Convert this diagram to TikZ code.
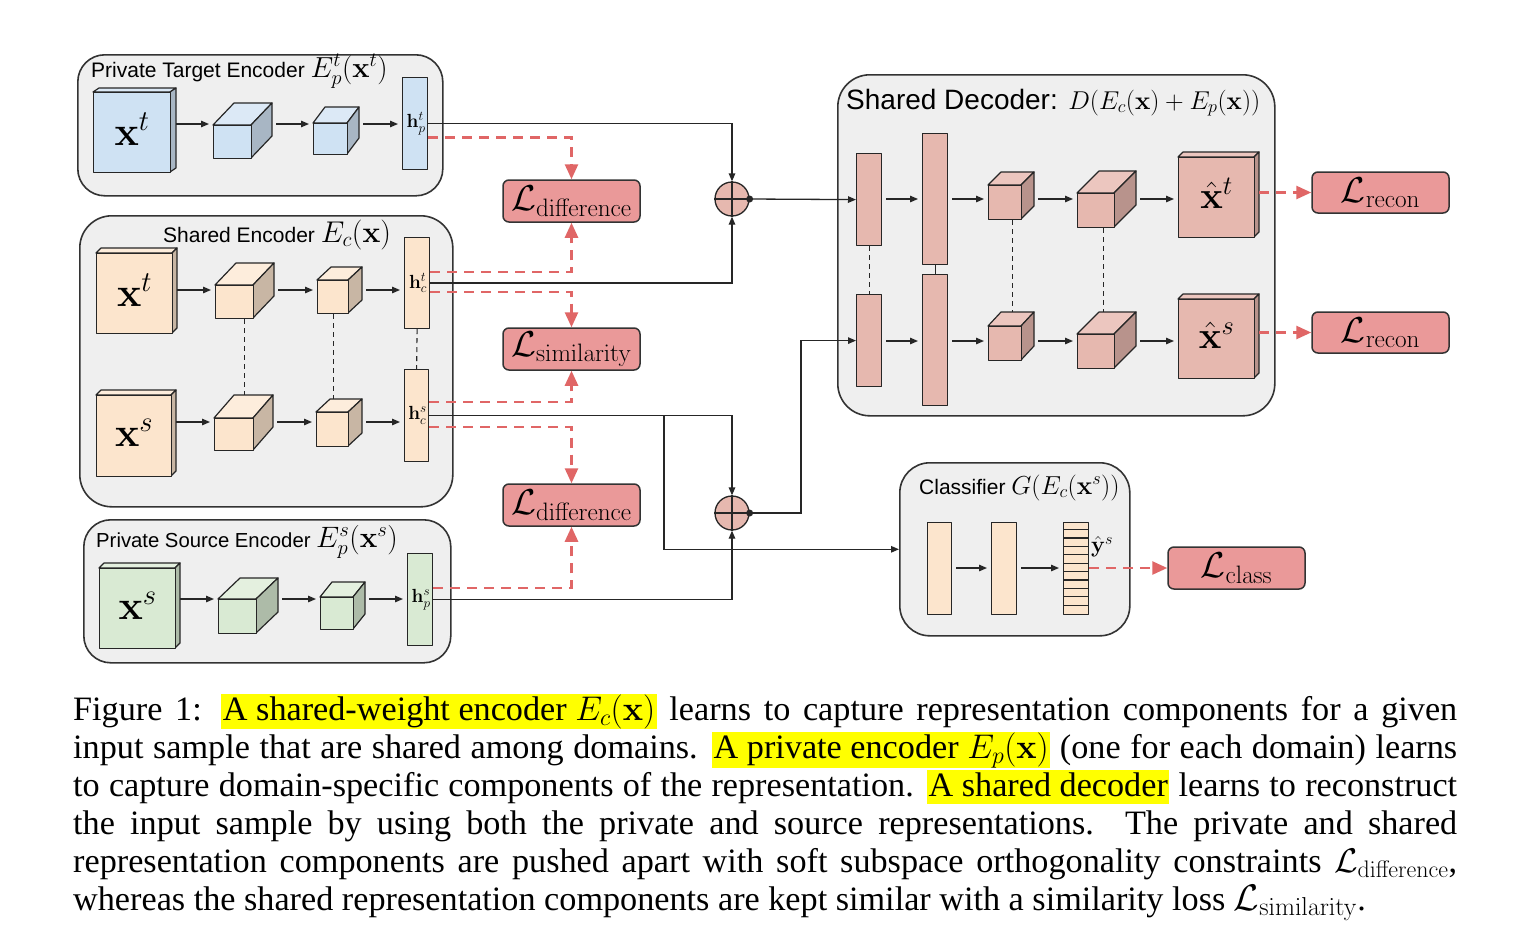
\RequirePackage{fix-cm}
\documentclass[tikz,border=0pt]{standalone}
\usepackage[no-math]{fontspec}
\usetikzlibrary{arrows.meta,calc}
\newfontfamily\arialf{Liberation Sans}
\newfontfamily\timesf{Liberation Serif}
\definecolor{bfront}{HTML}{CFE2F3}
\definecolor{btop}{HTML}{DCE9F6}
\definecolor{bside}{HTML}{A8B6C4}
\definecolor{ofront}{HTML}{FCE5CD}
\definecolor{otop}{HTML}{FDEDDC}
\definecolor{oside}{HTML}{C8B6A4}
\definecolor{gfront}{HTML}{D9EAD3}
\definecolor{gtop}{HTML}{E4F0DF}
\definecolor{gside}{HTML}{ADBBA8}
\definecolor{pfront}{HTML}{E6B8AF}
\definecolor{ptop}{HTML}{ECC6BF}
\definecolor{pside}{HTML}{B8938C}
\definecolor{lossfill}{HTML}{EA9999}
\definecolor{reddash}{HTML}{E06666}
\definecolor{panel}{HTML}{EFEFEF}
\definecolor{panelline}{HTML}{333333}
\definecolor{hly}{HTML}{FFFF00}
\newcommand\fsz[1]{\fontsize{#1}{#1}\selectfont}
\newcommand\hlt[1]{{\setlength{\fboxsep}{0pt}\colorbox{hly}{\kern1.5pt\rule[-8pt]{0pt}{34.5pt}#1\kern1.5pt}}}
\newcommand\cubeb[8]{%
 \filldraw[blk, fill=#8top] (#2,#3) -- ++(#6,-#7) -- ({#4+#6},{#3-#7}) -- (#4,#3) -- cycle;
 \filldraw[blk, fill=#8side] (#4,#3) -- ({#4+#6},{#3-#7}) -- ({#4+#6},{#5-#7}) -- (#4,#5) -- cycle;
 \node[blk, fill=#8front, anchor=north west, minimum width={#4-#2}, minimum height={#5-#3}, inner sep=0pt] (#1) at (#2,#3) {};
 \coordinate (#1R) at ({#4+#6},#3);
}
\newcommand\slab[6]{%
 \node[blk, fill=#6, anchor=north west, minimum width={#4-#2}, minimum height={#5-#3}, inner sep=0pt] (#1) at (#2,#3) {};
}
\tikzset{
 panelbox/.style={draw=panelline, fill=panel, line width=1.6pt, anchor=north west, inner sep=0pt},
 blk/.style={draw=black!85, line width=1.2pt, line join=round},
 conn/.style={draw=black!85, line width=1.3pt},
 arr/.style={conn, -{Triangle[length=8pt,width=6.5pt]}},
 arrg/.style={arr, shorten >=4pt, shorten <=4pt},
 rdash/.style={draw=reddash, line width=2.6pt, dash pattern=on 10pt off 7pt},
 rarr/.style={rdash, -{Triangle[length=15pt,width=13pt]}},
 lossbox/.style={draw=black!80, fill=lossfill, line width=1.5pt, rounded corners=6pt, minimum width=137pt, minimum height=42pt, inner sep=0pt, font={\fsz{36}}},
 sumnode/.style={circle, draw=black!85, fill=pfront, line width=1.3pt, minimum size=34pt, inner sep=0pt},
 vdash/.style={draw=black!85, line width=1.1pt, dash pattern=on 5pt off 4pt},
 ptitle/.style={anchor=base west, inner sep=0pt},
 lbl/.style={inner sep=0pt},
 capl/.style={anchor=base west, inner sep=0pt, font={\timesf\fsz{34.2}}},
}
\begin{document}
\begin{tikzpicture}[x=1pt,y=-1pt]
\fill[white] (0,0) rectangle (1532,951);
\useasboundingbox (0,0) rectangle (1532,951);
% panels
\node[panelbox, rounded corners=27pt, minimum width=365, minimum height=141] (PTE) at (77,54) {};
\node[panelbox, rounded corners=32pt, minimum width=373, minimum height=291] (SE) at (79,215) {};
\node[panelbox, rounded corners=27pt, minimum width=367, minimum height=143] (PSE) at (83,519) {};
\node[panelbox, rounded corners=32pt, minimum width=437, minimum height=341] (DEC) at (837,74) {};
\node[panelbox, rounded corners=30pt, minimum width=230, minimum height=173] (CLS) at (899,462) {};
% titles
\node[ptitle] (tPTE) at (91,77) {\arialf\fsz{21}Private Target Encoder {\fsz{29}$E_p^t(\mathbf{x}^t)$}};
\node[ptitle] (tSE) at (163,242) {\arialf\fsz{21}Shared Encoder {\fsz{30}$E_c(\mathbf{x})$}};
\node[ptitle] (tPSE) at (96,547) {\arialf\fsz{20.3}Private Source Encoder {\fsz{29.5}$E_p^s(\mathbf{x}^s)$}};
\node[ptitle] (tDEC) at (846,109) {\arialf\fsz{28}Shared Decoder: {\fsz{25.8}$D(E_c(\mathbf{x})+E_p(\mathbf{x}))$}};
\node[ptitle] (tCLS) at (919,494) {\arialf\fsz{21}Classifier {\fsz{26}$G(E_c(\mathbf{x}^s))$}};
% private target encoder
\cubeb{ptX}{93}{92}{170}{172}{6}{4}{b}
\cubeb{ptA}{213}{125}{251}{158}{21}{22}{b}
\cubeb{ptB}{313}{123}{347}{154}{12}{16}{b}
\slab{hpt}{402}{77}{427}{169}{bfront}
% shared encoder
\cubeb{seXt}{96}{253}{172}{333}{5}{5}{o}
\cubeb{seAt}{215}{285}{253}{318}{21}{22}{o}
\cubeb{seBt}{317}{280}{348}{313}{14}{13}{o}
\slab{hct}{404}{237}{429}{328}{ofront}
\cubeb{seXs}{96}{395}{171}{476}{5}{5}{o}
\cubeb{seAs}{214}{418}{253}{450}{20}{23}{o}
\cubeb{seBs}{316}{412}{348}{446}{14}{13}{o}
\slab{hcs}{404}{369}{428}{461}{ofront}
% private source encoder
\cubeb{psX}{99}{568}{175}{648}{5}{5}{g}
\cubeb{psA}{218}{599}{256}{633}{22}{21}{g}
\cubeb{psB}{320}{597}{353}{629}{12}{15}{g}
\slab{hps}{407}{553}{432}{645}{gfront}
% decoder
\slab{dAu}{856}{153}{881}{245}{pfront}
\slab{dBu}{922}{133}{947}{264}{pfront}
\cubeb{dCu}{988}{185}{1021}{219}{13}{13}{p}
\cubeb{dDu}{1077}{193}{1114}{227}{22}{22}{p}
\cubeb{dXu}{1178}{157}{1254}{237}{5}{5}{p}
\slab{dAl}{856}{294}{881}{386}{pfront}
\slab{dBl}{922}{274}{947}{405}{pfront}
\cubeb{dCl}{988}{326}{1021}{360}{13}{14}{p}
\cubeb{dDl}{1077}{334}{1114}{368}{22}{22}{p}
\cubeb{dXl}{1178}{299}{1254}{378}{5}{5}{p}
% classifier
\slab{cA}{927}{522}{951}{614}{ofront}
\slab{cB}{991}{522}{1016}{614}{ofront}
\slab{cC}{1063}{522}{1088}{614}{ofront}
\foreach \k in {0,...,9} \draw[blk] (1063,{529.5+8.4*\k}) -- (1088,{529.5+8.4*\k});
% labels
\node[lbl] (lptX) at ($(ptX.center)+(0,-3)$) {\fsz{41}$\mathbf{x}^t$};
\node[lbl] (lseXt) at ($(seXt.center)+(0,-3)$) {\fsz{41}$\mathbf{x}^t$};
\node[lbl] (lseXs) at ($(seXs.center)+(0,-3)$) {\fsz{41}$\mathbf{x}^s$};
\node[lbl] (lpsX) at ($(psX.center)+(0,-3)$) {\fsz{41}$\mathbf{x}^s$};
\node[lbl] (ldXu) at ($(dXu.center)+(0,-4)$) {\fsz{38}$\hat{\mathbf{x}}^t$};
\node[lbl] (ldXl) at ($(dXl.center)+(0,-4)$) {\fsz{38}$\hat{\mathbf{x}}^s$};
\node[lbl] (lhpt) at ($(hpt.center)+(1,0)$) {\fsz{19}$\mathbf{h}_p^t$};
\node[lbl] (lhct) at ($(hct.center)+(1,0)$) {\fsz{19}$\mathbf{h}_c^t$};
\node[lbl] (lhcs) at ($(hcs.center)+(1,0)$) {\fsz{19}$\mathbf{h}_c^s$};
\node[lbl] (lhps) at ($(hps.center)+(1,0)$) {\fsz{19}$\mathbf{h}_p^s$};
\node[lbl, anchor=west] (lyh) at (1091,547) {\fsz{23}$\hat{\mathbf{y}}^s$};
% row coordinates
\coordinate (rPT) at (0,124);
\coordinate (rSEt) at (0,290);
\coordinate (rSEs) at (0,422);
\coordinate (rPS) at (0,599);
\coordinate (rDu) at (0,199);
\coordinate (rDl) at (0,341);
\coordinate (rC) at (0,568);
% in-block arrows
\draw[arr, shorten >=4pt] (ptXR |- rPT) -- (ptA.west |- rPT);
\draw[arrg] (ptAR |- rPT) -- (ptB.west |- rPT);
\draw[arrg] (ptBR |- rPT) -- (hpt.west |- rPT);
\draw[arr, shorten >=4pt] (seXtR |- rSEt) -- (seAt.west |- rSEt);
\draw[arrg] (seAtR |- rSEt) -- (seBt.west |- rSEt);
\draw[arrg] (seBtR |- rSEt) -- (hct.west |- rSEt);
\draw[arr, shorten >=4pt] (seXsR |- rSEs) -- (seAs.west |- rSEs);
\draw[arrg] (seAsR |- rSEs) -- (seBs.west |- rSEs);
\draw[arrg] (seBsR |- rSEs) -- (hcs.west |- rSEs);
\draw[arr, shorten >=4pt] (psXR |- rPS) -- (psA.west |- rPS);
\draw[arrg] (psAR |- rPS) -- (psB.west |- rPS);
\draw[arrg] (psBR |- rPS) -- (hps.west |- rPS);
\draw[arrg] (dAu.east |- rDu) -- (dBu.west |- rDu);
\draw[arrg] (dBu.east |- rDu) -- (dCu.west |- rDu);
\draw[arrg] (dCuR |- rDu) -- (dDu.west |- rDu);
\draw[arrg] (dDuR |- rDu) -- (dXu.west |- rDu);
\draw[arrg] (dAl.east |- rDl) -- (dBl.west |- rDl);
\draw[arrg] (dBl.east |- rDl) -- (dCl.west |- rDl);
\draw[arrg] (dClR |- rDl) -- (dDl.west |- rDl);
\draw[arrg] (dDlR |- rDl) -- (dXl.west |- rDl);
\draw[arrg] (cA.east |- rC) -- (cB.west |- rC);
\draw[arrg] (cB.east |- rC) -- (cC.west |- rC);
% shared-weight dashed ties
\draw[vdash] ($(seAt.south)+(10,0)$) -- ($(seAs.north)+(10.5,-23)$);
\draw[vdash] (seBt.south) -- ($(seBs.north)+(0.5,-13)$);
\draw[vdash] (hct.south) -- (hcs.north);
\draw[vdash] (dAu.south) -- (dAl.north);
\draw[conn, line width=1.1pt] (dBu.south) -- (dBl.north);
\draw[vdash] ($(dCu.south)+(7,0)$) -- ($(dCl.north)+(7,-14)$);
\draw[vdash] ($(dDu.south)+(7,0)$) -- ($(dDl.north)+(7,-22)$);
% sum nodes and losses
\node[sumnode] (P1) at (732,199) {};
\node[sumnode] (P2) at (732,513) {};
\node[lossbox] (Ld1) at (571.5,201) {$\mathcal{L}_{\mathrm{difference}}$};
\node[lossbox] (Lsim) at (571.5,349) {$\mathcal{L}_{\mathrm{similarity}}$};
\node[lossbox] (Ld2) at (571.5,505) {$\mathcal{L}_{\mathrm{difference}}$};
\node[lossbox, minimum height=41pt] (Lr1) at (1380.5,192.5) {$\mathcal{L}_{\mathrm{recon}}$};
\node[lossbox, minimum height=41pt] (Lr2) at (1380.5,332.5) {$\mathcal{L}_{\mathrm{recon}}$};
\node[lossbox] (Lc) at (1236.5,568) {$\mathcal{L}_{\mathrm{class}}$};
% red dashed loss connectors
\coordinate (yA) at (0,137.5);
\coordinate (yB) at (0,272);
\coordinate (yC) at (0,292);
\coordinate (yD) at (0,402);
\coordinate (yE) at (0,427);
\coordinate (yF) at (0,588);
\draw[rarr] (hpt.east |- yA) -| (Ld1.north);
\draw[rarr] (hct.east |- yB) -| (Ld1.south);
\draw[rarr] (hct.east |- yC) -| (Lsim.north);
\draw[rarr] (hcs.east |- yD) -| (Lsim.south);
\draw[rarr] (hcs.east |- yE) -| (Ld2.north);
\draw[rarr] (hps.east |- yF) -| (Ld2.south);
\draw[rarr] (dXuR |- Lr1.west) -- (Lr1.west);
\draw[rarr] (dXlR |- Lr2.west) -- (Lr2.west);
\draw[rarr] (cC.east |- Lc.west) -- (Lc.west);
% black connectors
\draw[arr] (hpt.east) -| (P1.north);
\draw[arr] (hct.east) -| (P1.south);
\draw[arr] (hcs.east) -| (P2.north);
\draw[arr] (hps.east) -| (P2.south);
\coordinate (br) at (664,415);
\draw[arr] (br) |- (CLS.west);
\draw[arr] (P1.east) -- (dAu.west);
\coordinate (bend) at (801,513);
\draw[arr] (P2.east) -- (bend) |- (dAl.west);
\foreach \p in {P1,P2}{
 \draw[conn] (\p.north) -- (\p.south);
 \draw[conn] (\p.west) -- (\p.east);
 \fill[black!85] (\p.east) circle (3.5pt);
}
% caption
\node[capl] (cap1) at (73,720) {\hbox to 1384pt{Figure 1: \hlt{A shared-weight encoder $E_c(\mathbf{x})$} learns to capture representation components for a given}};
\node[capl] (cap2) at (73,758) {\hbox to 1384pt{input sample that are shared among domains. \hlt{A private encoder $E_p(\mathbf{x})$} (one for each domain) learns}};
\node[capl] (cap3) at (73,796) {\hbox to 1384pt{to capture domain-specific components of the representation. \hlt{A shared decoder} learns to reconstruct}};
\node[capl] (cap4) at (73,834) {\hbox to 1384pt{the input sample by using both the private and source representations. The private and shared}};
\node[capl] (cap5) at (73,872) {\hbox to 1384pt{representation components are pushed apart with soft subspace orthogonality constraints $\mathcal{L}_{\mathrm{difference}}$,}};
\node[capl] (cap6) at (73,910) {\hbox to 1384pt{whereas the shared representation components are kept similar with a similarity loss {\fsz{37}$\mathcal{L}_{\mathrm{similarity}}$}.\hfil}};
\end{tikzpicture}
\end{document}
